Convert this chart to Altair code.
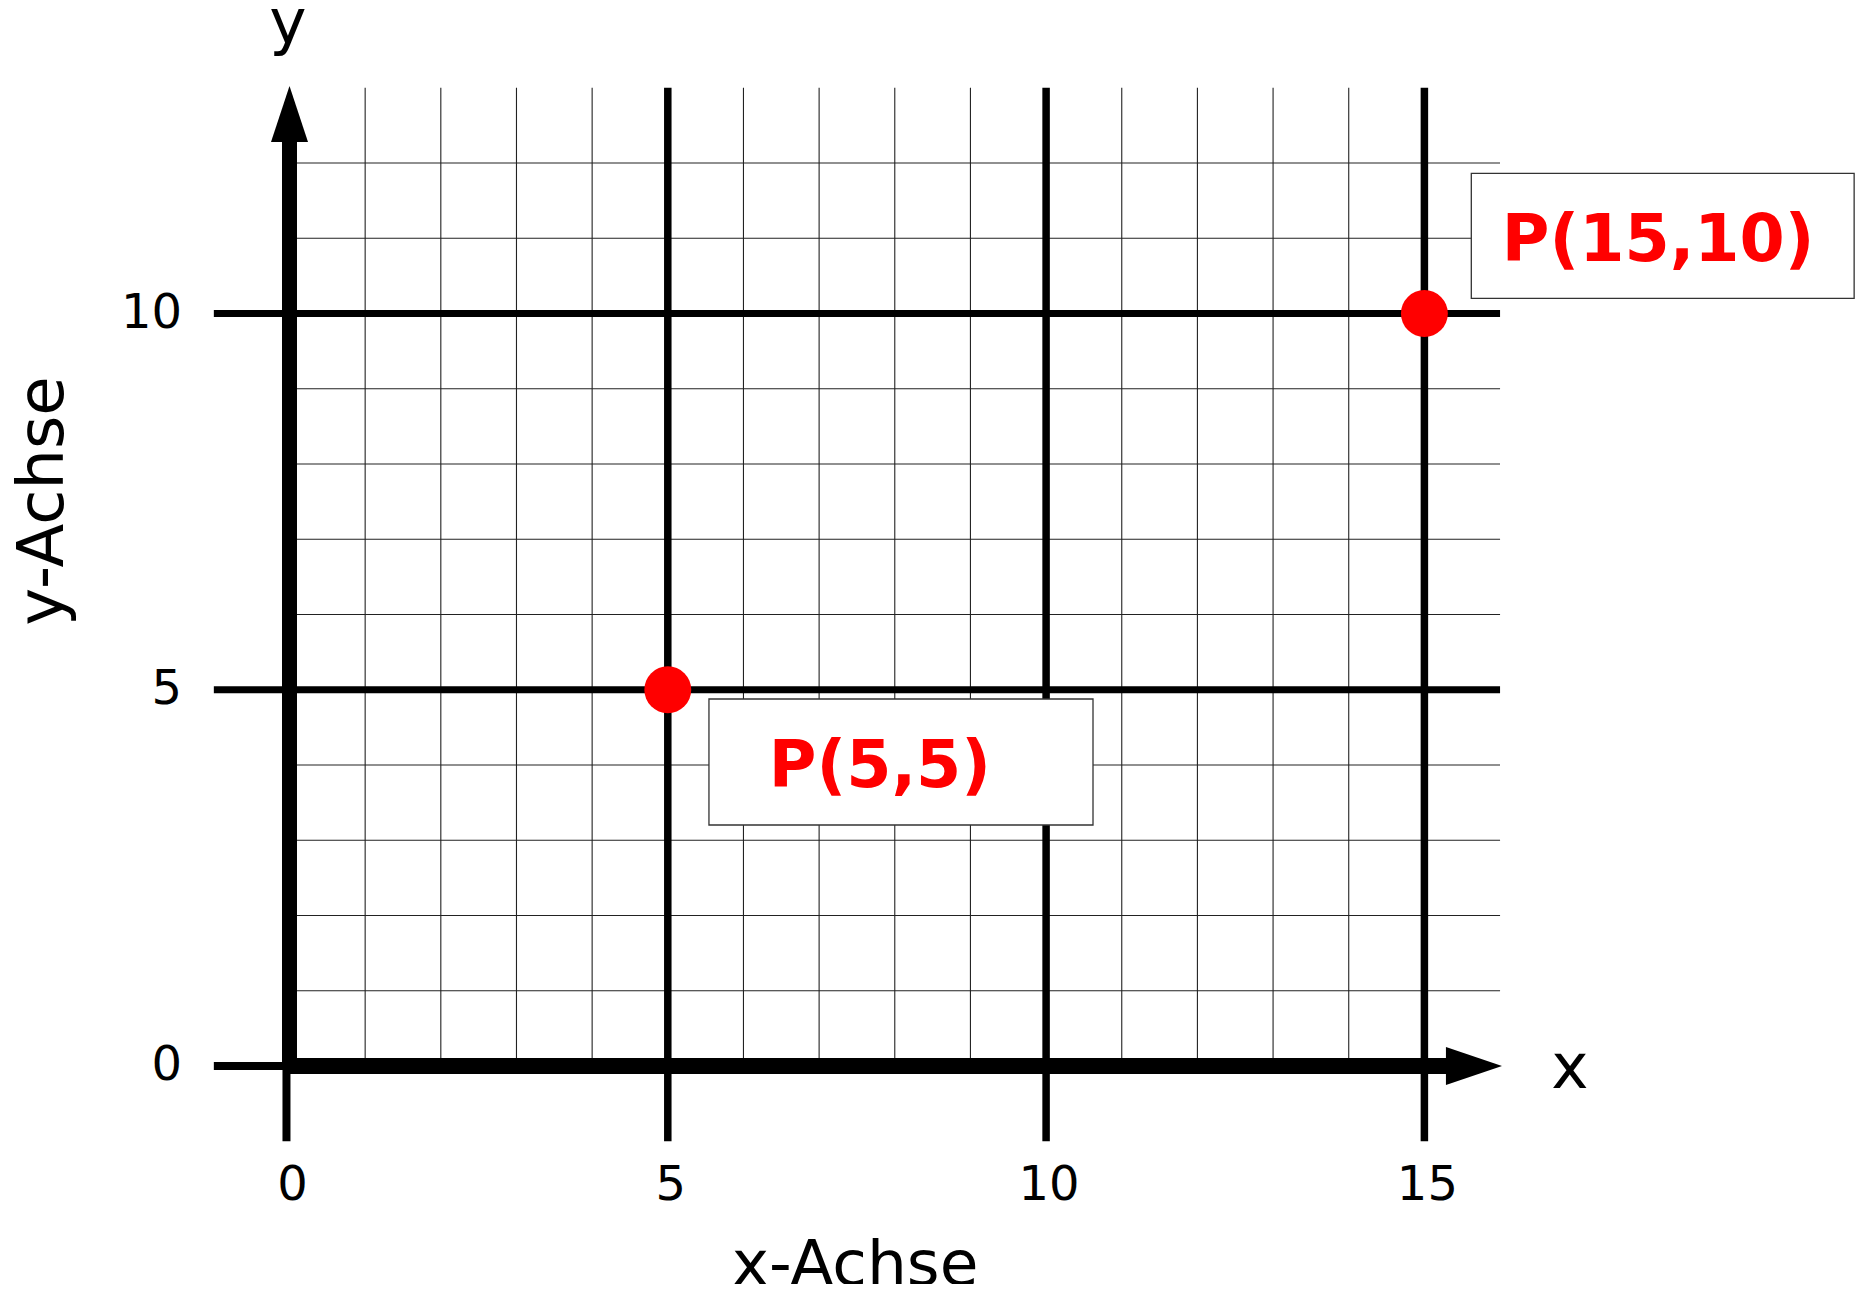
import altair as alt
import pandas as pd

# ---- data ----
major_x = [5, 10, 15]
major_y = [5, 10]
minor_x = [1, 2, 3, 4, 6, 7, 8, 9, 11, 12, 13, 14]
minor_y = [1, 2, 3, 4, 6, 7, 8, 9, 11, 12]
tick_x = [0, 5, 10, 15]
tick_y = [0, 5, 10]
grid_x_max = 16
grid_y_max = 13
stub_min = -1

point_x = [5, 15]
point_y = [5, 10]
point_labels = ["P(5,5)", "P(15,10)"]
# label boxes (data coordinates)
box_x1 = [5.544, 15.62]
box_x2 = [10.62, 20.68]
box_y1 = [3.203, 10.202]
box_y2 = [4.877, 11.863]
label_x = [7.804, 18.09]
label_y = [3.708, 10.698]

FONT = "DejaVu Sans"

xs = alt.Scale(domain=[-3.7206, 20.731], nice=False, zero=False)
ys = alt.Scale(domain=[-2.897, 14.060], nice=False, zero=False)


def X(f="x"):
    return alt.X(f, type="quantitative", scale=xs, axis=None)


def Y(f="y"):
    return alt.Y(f, type="quantitative", scale=ys, axis=None)


# minor grid
minor_v = alt.Chart(pd.DataFrame({"x": minor_x, "y": 0, "y2": grid_y_max})).mark_rule(
    color="#222", strokeWidth=1.1).encode(x=X(), y=Y(), y2="y2")
minor_h = alt.Chart(pd.DataFrame({"y": minor_y, "x": 0, "x2": grid_x_max})).mark_rule(
    color="#222", strokeWidth=1.1).encode(y=Y(), x=X(), x2="x2")

# major lines
major_v = alt.Chart(pd.DataFrame({"x": major_x, "y": stub_min, "y2": grid_y_max})).mark_rule(
    color="black", strokeWidth=7.5).encode(x=X(), y=Y(), y2="y2")
major_h = alt.Chart(pd.DataFrame({"y": major_y, "x": stub_min, "x2": grid_x_max})).mark_rule(
    color="black", strokeWidth=7).encode(y=Y(), x=X(), x2="x2")

# axis stubs below / left of origin
stub_v = alt.Chart(pd.DataFrame({"x": [-0.04], "y": [stub_min], "y2": [0]})).mark_rule(
    color="black", strokeWidth=8).encode(x=X(), y=Y(), y2="y2")
stub_h = alt.Chart(pd.DataFrame({"y": [0], "x": [stub_min], "x2": [0]})).mark_rule(
    color="black", strokeWidth=8).encode(y=Y(), x=X(), x2="x2")

# thick axes
axis_y = alt.Chart(pd.DataFrame({"x": [0], "y": [0], "y2": [12.33]})).mark_rule(
    color="black", strokeWidth=15).encode(x=X(), y=Y(), y2="y2")
axis_x = alt.Chart(pd.DataFrame({"y": [0], "x": [0], "x2": [15.33]})).mark_rule(
    color="black", strokeWidth=16).encode(y=Y(), x=X(), x2="x2")

# arrow heads
arrow_x = alt.Chart(pd.DataFrame({"x": [15.285, 16.026], "y": [0.2525, 0], "y2": [-0.2525, 0]})).mark_area(
    color="black", orient="vertical", opacity=1).encode(x=X(), y=Y(), y2="y2")
arrow_y = alt.Chart(pd.DataFrame({"y": [12.279, 13.023], "x": [-0.2445, 0], "x2": [0.2445, 0]})).mark_area(
    color="black", orient="horizontal", opacity=1).encode(y=Y(), x=X(), x2="x2")

# label boxes
boxes = alt.Chart(pd.DataFrame({"x": box_x1, "x2": box_x2, "y": box_y1, "y2": box_y2})).mark_rect(
    fill="white", stroke="#333", strokeWidth=1.3).encode(x=X(), x2="x2", y=Y(), y2="y2")

# points
points = alt.Chart(pd.DataFrame({"x": point_x, "y": point_y})).mark_circle(
    color="#ff0000", size=2200, opacity=1).encode(x=X(), y=Y())

plabels = alt.Chart(pd.DataFrame({"x": label_x, "y": label_y, "t": point_labels})).mark_text(
    font=FONT, fontSize=65, fontWeight="bold", color="#ff0000", align="center", baseline="alphabetic"
).encode(x=X(), y=Y(), text="t:N")

# tick labels
xticks = alt.Chart(pd.DataFrame({"x": tick_x, "y": -1.781, "t": [str(v) for v in tick_x]})).mark_text(
    font=FONT, fontSize=48, color="black", align="center", baseline="alphabetic", dx=3
).encode(x=X(), y=Y(), text="t:N")
yticks = alt.Chart(pd.DataFrame({"y": tick_y, "x": -1.421, "t": [str(v) for v in tick_y]})).mark_text(
    font=FONT, fontSize=48, color="black", align="right", baseline="middle"
).encode(x=X(), y=Y(), text="t:N")

# axis names
names = alt.Chart(pd.DataFrame({"x": [-0.02, 16.924, 7.475], "y": [13.595, -0.292, -2.91],
                                "t": ["y", "x", "x-Achse"]})).mark_text(
    font=FONT, fontSize=63, color="black", align="center", baseline="alphabetic"
).encode(x=X(), y=Y(), text="t:N")
yname = alt.Chart(pd.DataFrame({"x": [-2.994], "y": [7.508], "t": ["y-Achse"]})).mark_text(
    font=FONT, fontSize=64, color="black", align="center", baseline="alphabetic", angle=270
).encode(x=X(), y=Y(), text="t:N")

chart = alt.layer(
    minor_v, minor_h, major_v, major_h, stub_v, stub_h, axis_y, axis_x,
    arrow_x, arrow_y, boxes, points, plabels, xticks, yticks, names, yname
).properties(
    width=1850, height=1276, padding=0, autosize=alt.AutoSizeParams(type="none"),
    background="white"
).configure_view(stroke=None)

chart.save("out.html", embed_options={"renderer": "svg", "actions": False})
